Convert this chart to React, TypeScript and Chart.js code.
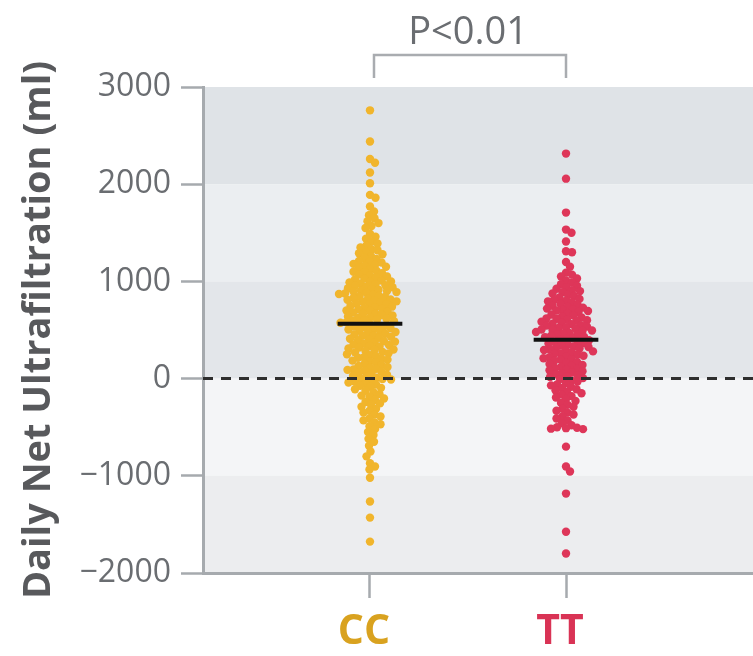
import React, { useEffect, useRef } from "react";
import { Chart, registerables } from "chart.js";

Chart.register(...registerables);

// ---------------- data ----------------
const categories = ["CC", "TT"];
const categoryPositions = [1, 2];
const yTickValues = [-2000, -1000, 0, 1000, 2000, 3000];
const bandEdges = [3000, 2000, 1000, 0, -1000, -2000];
const meanValues = [565, 400];
const pValueText = "P<0.01";
const yAxisTitle = "Daily Net Ultrafiltration (ml)";

const ccValues = [
  2760, 2440, 2260, 2220, 2120, 2010, 1890, 1860, 1770, 1720, 1680, 1650, 1620, 1600, 1570, 1550,
  1490, 1460, 1440, 1410,
  1390, 1370, 1350, 1330, 1320, 1300,
  1290, 1280, 1260, 1240, 1230, 1210, 1200,
  1195, 1180, 1170, 1160, 1150, 1140, 1125, 1110, 1100,
  1095, 1085, 1070, 1060, 1050, 1040, 1030, 1020, 1010, 1000,
  995, 990, 980, 970, 960, 955, 945, 940, 930, 920, 915, 905, 900,
  895, 890, 880, 875, 870, 860, 850, 845, 840, 830, 820, 815, 810, 800,
  795, 790, 780, 770, 765, 760, 750, 740, 735, 725, 720, 710, 700,
  695, 690, 680, 670, 665, 655, 650, 640, 630, 625, 615, 610, 600,
  595, 590, 580, 575, 565, 560, 550, 540, 535, 525, 520, 510, 505,
  495, 490, 480, 470, 460, 455, 445, 440, 430, 420, 410, 400,
  395, 385, 380, 370, 360, 350, 345, 335, 330, 320, 310, 300,
  295, 285, 275, 270, 260, 250, 240, 230, 220, 215, 205,
  195, 185, 175, 165, 150, 140, 130, 120, 110, 100,
  95, 90, 80, 70, 60, 50, 40, 30, 20, 10, 0,
  -5, -10, -20, -30, -40, -50, -60, -75, -85, -95,
  -110, -125, -140, -160, -175, -190,
  -205, -220, -240, -255, -270, -290,
  -310, -330, -350, -370, -390,
  -410, -430, -450, -470, -490,
  -520, -550, -580,
  -620, -650, -690,
  -750, -800, -870, -905, -935, -1020, -1265, -1430, -1677,
];

const ttValues = [
  2315, 2057, 1708, 1533, 1500, 1410, 1310, 1300, 1200, 1150,
  1090, 1070, 1050, 1030, 1010,
  990, 970, 955, 940, 925, 910, 900,
  890, 875, 860, 850, 835, 820, 810, 800,
  795, 785, 770, 760, 750, 740, 730, 720, 715, 705, 700,
  695, 685, 670, 660, 650, 640, 630, 620, 615, 605, 600,
  595, 585, 575, 565, 560, 550, 545, 535, 525, 520, 510, 505, 500,
  495, 490, 480, 470, 465, 455, 450, 440, 430, 425, 415, 410, 400,
  395, 385, 375, 365, 360, 350, 340, 330, 325, 315, 310, 300,
  295, 290, 280, 270, 260, 255, 245, 235, 225, 220, 210, 200,
  195, 185, 170, 160, 150, 140, 130, 120, 110, 100,
  95, 85, 75, 65, 55, 45, 35, 25, 15, 5,
  -5, -20, -30, -45, -60, -70, -85, -95,
  -110, -120, -135, -150, -165, -180, -195,
  -210, -230, -250, -270, -290,
  -310, -330, -350, -370, -390,
  -410, -430, -460, -480,
  -500, -505, -510, -515, -520,
  -700, -905, -955, -1183, -1575, -1800,
];

// ---------------- styling ----------------
const X_MIN = 0.148;
const X_MAX = 2.954;
const PX_PER_X = 196; // approximate pixels per x unit (for swarm layout only)
const PX_PER_Y = 0.0972; // approximate pixels per ml (for swarm layout only)
const DOT_R = 4.2;
const SWARM_D = 6.0;
const MEAN_HALF = 0.165;

const dotColors = ["#F1B52C", "#DE3659"];
const labelColors = ["#D9A21F", "#D93355"];
const bandColors = ["#dfe3e7", "#ebeef1", "#e3e6ea", "#f4f5f7", "#ecedef"];
const axisGrey = "#a6aaae";
const textGrey = "#6a6d71";
const FONT = "'Open Sans', 'Noto Sans', sans-serif";

// beeswarm layout: horizontal offsets so dots don't overlap (presentation only)
function swarmX(values: number[], center: number): number[] {
  const order = values.map((_, i) => i).sort((a, b) => values[b] - values[a]);
  const placed: { x: number; y: number }[] = [];
  const xs: number[] = new Array(values.length);
  const step = 0.5;
  for (const i of order) {
    const y = values[i] * PX_PER_Y;
    let off = 0;
    for (let k = 0; k < 400; k++) {
      const cand = Math.ceil(k / 2) * step * (k % 2 === 1 ? 1 : -1);
      let ok = true;
      for (const p of placed) {
        const dy = p.y - y;
        if (Math.abs(dy) >= SWARM_D) continue;
        const dx = p.x - cand;
        if (dx * dx + dy * dy < SWARM_D * SWARM_D) { ok = false; break; }
      }
      if (ok) { off = cand; break; }
    }
    placed.push({ x: off, y });
    xs[i] = center + off / PX_PER_X;
  }
  return xs;
}

const bandsPlugin = {
  id: "bands",
  beforeDraw(chart: any) {
    const { ctx, chartArea, scales } = chart;
    const y = scales.y;
    ctx.save();
    for (let i = 0; i < bandEdges.length - 1; i++) {
      const t = y.getPixelForValue(bandEdges[i]);
      const b = y.getPixelForValue(bandEdges[i + 1]);
      ctx.fillStyle = bandColors[i % bandColors.length];
      ctx.fillRect(chartArea.left, t, chartArea.right - chartArea.left, b - t);
    }
    ctx.restore();
  },
};

const bracketPlugin = {
  id: "bracket",
  afterDraw(chart: any) {
    const { ctx, chartArea, scales } = chart;
    const x1 = scales.x.getPixelForValue(categoryPositions[0]) + 4;
    const x2 = scales.x.getPixelForValue(categoryPositions[1]);
    const yTop = chartArea.top - 32;
    const yBot = chartArea.top - 9;
    ctx.save();
    ctx.strokeStyle = "#a9acb0";
    ctx.lineWidth = 2.5;
    ctx.beginPath();
    ctx.moveTo(x1, yBot);
    ctx.lineTo(x1, yTop);
    ctx.lineTo(x2, yTop);
    ctx.lineTo(x2, yBot);
    ctx.stroke();
    ctx.fillStyle = textGrey;
    ctx.font = `38px ${FONT}`;
    ctx.textAlign = "center";
    ctx.textBaseline = "alphabetic";
    ctx.fillText(pValueText, (x1 + x2) / 2 - 2, yTop - 11);
    ctx.restore();
  },
};

export default function App() {
  const ref = useRef<HTMLCanvasElement | null>(null);

  useEffect(() => {
    if (!ref.current) return;
    const ccX = swarmX(ccValues, categoryPositions[0]);
    const ttX = swarmX(ttValues, categoryPositions[1]);

    const chart = new Chart(ref.current, {
      type: "scatter",
      data: {
        datasets: [
          {
            label: categories[0],
            data: ccValues.map((v, i) => ({ x: ccX[i], y: v })),
            backgroundColor: dotColors[0],
            pointRadius: DOT_R,
            pointBorderWidth: 0,
            order: 3,
          },
          {
            label: categories[1],
            data: ttValues.map((v, i) => ({ x: ttX[i], y: v })),
            backgroundColor: dotColors[1],
            pointRadius: DOT_R,
            pointBorderWidth: 0,
            order: 3,
          },
          {
            type: "line",
            label: "zero",
            data: [{ x: X_MIN, y: 0 }, { x: X_MAX, y: 0 }],
            borderColor: "#2e2e2e",
            borderWidth: 3,
            borderDash: [10, 8],
            pointRadius: 0,
            order: 2,
          } as any,
          ...meanValues.map((m, i) => ({
            type: "line",
            label: "mean " + categories[i],
            data: [
              { x: categoryPositions[i] - MEAN_HALF, y: m },
              { x: categoryPositions[i] + MEAN_HALF, y: m },
            ],
            borderColor: "#111111",
            borderWidth: 4,
            pointRadius: 0,
            order: 1,
          } as any)),
        ],
      },
      options: {
        animation: false,
        responsive: false,
        devicePixelRatio: 1,
        layout: { autoPadding: false, padding: { top: 87, left: 0, right: 0, bottom: 0 } },
        plugins: { legend: { display: false }, tooltip: { enabled: false } },
        scales: {
          x: {
            type: "linear",
            min: X_MIN,
            max: X_MAX,
            afterBuildTicks: (s: any) => {
              s.ticks = categoryPositions.map((v) => ({ value: v }));
            },
            afterFit: (s: any) => {
              s.height = 83;
              s.paddingLeft = 0;
              s.paddingRight = 0;
            },
            border: { display: true, color: axisGrey, width: 3 },
            grid: {
              drawOnChartArea: false,
              drawTicks: true,
              tickLength: 25,
              tickWidth: 2.5,
              color: axisGrey,
            },
            ticks: {
              autoSkip: false,
              maxRotation: 0,
              padding: 10,
              labelOffset: -6,
              callback: (v: any) => {
                const i = categoryPositions.indexOf(Number(v));
                return i >= 0 ? categories[i] : "";
              },
              color: (c: any) => {
                const i = categoryPositions.indexOf(c.tick?.value);
                return i >= 0 ? labelColors[i] : textGrey;
              },
              font: { family: FONT, size: 41, weight: "bold" },
            },
          },
          y: {
            type: "linear",
            min: -2000,
            max: 3000,
            afterBuildTicks: (s: any) => {
              s.ticks = yTickValues.map((v) => ({ value: v }));
            },
            afterFit: (s: any) => {
              s.width = 203;
              s.paddingTop = 0;
              s.paddingBottom = 0;
            },
            border: { display: true, color: axisGrey, width: 3 },
            grid: {
              drawOnChartArea: false,
              drawTicks: true,
              tickLength: 22,
              tickWidth: 2.5,
              color: axisGrey,
            },
            ticks: {
              padding: 10,
              color: textGrey,
              font: { family: FONT, size: 32 },
              callback: (v: any) => {
                const n = Number(v);
                return n < 0 ? "\u2212" + Math.abs(n) : String(n);
              },
            },
            title: {
              display: true,
              text: yAxisTitle,
              color: "#58595c",
              font: { family: FONT, size: 38, weight: "bold" },
              padding: { top: 16, bottom: 0 },
            },
          },
        },
      },
      plugins: [bandsPlugin, bracketPlugin],
    } as any);
    return () => chart.destroy();
  }, []);

  return (
    <div style={{ position: "absolute", left: 0, top: 0, width: 753, height: 656, background: "#fff" }}>
      <canvas ref={ref} width={753} height={656} style={{ display: "block" }} />
    </div>
  );
}
